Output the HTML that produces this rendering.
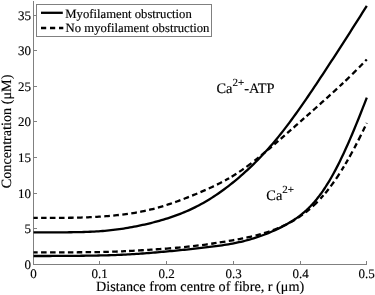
<!DOCTYPE html>
<html><head><meta charset="utf-8"><style>
html,body{margin:0;padding:0;background:#fff;}
svg{display:block;}
text{stroke:#000;stroke-width:0.15px;text-rendering:geometricPrecision;font-family:"Liberation Serif","Times New Roman",serif;fill:#000;}
</style></head><body>
<svg width="375" height="295" viewBox="0 0 375 295">
<rect width="375" height="295" fill="#fff"/>
<g stroke="#808080" stroke-width="1" fill="none" shape-rendering="crispEdges">
<line x1="33.5" y1="1" x2="33.5" y2="265"/>
<line x1="33" y1="264.5" x2="367" y2="264.5"/>
<line x1="33" y1="228.5" x2="37" y2="228.5"/><line x1="33" y1="193.5" x2="37" y2="193.5"/><line x1="33" y1="157.5" x2="37" y2="157.5"/><line x1="33" y1="121.5" x2="37" y2="121.5"/><line x1="33" y1="86.5" x2="37" y2="86.5"/><line x1="33" y1="50.5" x2="37" y2="50.5"/><line x1="33" y1="15.5" x2="37" y2="15.5"/><line x1="99.5" y1="264" x2="99.5" y2="260.5"/><line x1="166.5" y1="264" x2="166.5" y2="260.5"/><line x1="233.5" y1="264" x2="233.5" y2="260.5"/><line x1="300.5" y1="264" x2="300.5" y2="260.5"/><line x1="366.5" y1="264" x2="366.5" y2="260.5"/>
</g>
<g font-size="13"><text x="30.9" y="269.00" text-anchor="end">0</text><text x="30.9" y="233.00" text-anchor="end">5</text><text x="30.9" y="198.00" text-anchor="end">10</text><text x="30.9" y="162.00" text-anchor="end">15</text><text x="30.9" y="126.00" text-anchor="end">20</text><text x="30.9" y="91.00" text-anchor="end">25</text><text x="30.9" y="55.00" text-anchor="end">30</text><text x="30.9" y="20.00" text-anchor="end">35</text><text x="33.50" y="278.1" text-anchor="middle">0</text><text x="99.50" y="278.1" text-anchor="middle">0.1</text><text x="166.50" y="278.1" text-anchor="middle">0.2</text><text x="233.50" y="278.1" text-anchor="middle">0.3</text><text x="300.50" y="278.1" text-anchor="middle">0.4</text><text x="366.50" y="278.1" text-anchor="middle">0.5</text></g>
<g fill="none" stroke="#000" stroke-width="2.3" stroke-linejoin="round">
<path d="M33.50,232.40 L35.60,232.40 L37.69,232.40 L39.79,232.40 L41.88,232.40 L43.98,232.39 L46.08,232.39 L48.17,232.39 L50.27,232.38 L52.37,232.38 L54.46,232.37 L56.56,232.36 L58.65,232.35 L60.75,232.34 L62.85,232.33 L64.94,232.31 L67.04,232.29 L69.14,232.27 L71.23,232.25 L73.33,232.22 L75.42,232.19 L77.52,232.15 L79.62,232.10 L81.71,232.05 L83.81,231.99 L85.91,231.92 L88.00,231.85 L90.10,231.76 L92.19,231.67 L94.29,231.56 L96.39,231.44 L98.48,231.30 L100.58,231.16 L102.68,230.99 L104.77,230.82 L106.87,230.63 L108.96,230.42 L111.06,230.20 L113.16,229.96 L115.25,229.71 L117.35,229.44 L119.45,229.15 L121.54,228.85 L123.64,228.53 L125.73,228.20 L127.83,227.85 L129.93,227.48 L132.02,227.11 L134.12,226.71 L136.22,226.30 L138.31,225.88 L140.41,225.44 L142.50,224.99 L144.60,224.52 L146.70,224.04 L148.79,223.54 L150.89,223.03 L152.98,222.50 L155.08,221.95 L157.18,221.39 L159.27,220.81 L161.37,220.21 L163.47,219.59 L165.56,218.96 L167.66,218.30 L169.75,217.62 L171.85,216.91 L173.95,216.19 L176.04,215.43 L178.14,214.65 L180.24,213.85 L182.33,213.01 L184.43,212.15 L186.52,211.26 L188.62,210.33 L190.72,209.37 L192.81,208.38 L194.91,207.36 L197.01,206.30 L199.10,205.20 L201.20,204.07 L203.29,202.91 L205.39,201.70 L207.49,200.46 L209.58,199.19 L211.68,197.87 L213.78,196.52 L215.87,195.13 L217.97,193.71 L220.06,192.25 L222.16,190.75 L224.26,189.22 L226.35,187.65 L228.45,186.05 L230.55,184.41 L232.64,182.74 L234.74,181.03 L236.83,179.29 L238.93,177.52 L241.03,175.71 L243.12,173.86 L245.22,171.98 L247.32,170.07 L249.41,168.11 L251.51,166.12 L253.60,164.09 L255.70,162.02 L257.80,159.91 L259.89,157.76 L261.99,155.57 L264.08,153.33 L266.18,151.04 L268.28,148.71 L270.37,146.34 L272.47,143.91 L274.57,141.44 L276.66,138.92 L278.76,136.36 L280.85,133.75 L282.95,131.09 L285.05,128.39 L287.14,125.64 L289.24,122.86 L291.34,120.03 L293.43,117.17 L295.53,114.27 L297.62,111.33 L299.72,108.37 L301.82,105.37 L303.91,102.35 L306.01,99.30 L308.11,96.23 L310.20,93.14 L312.30,90.04 L314.39,86.91 L316.49,83.77 L318.59,80.62 L320.68,77.46 L322.78,74.28 L324.88,71.09 L326.97,67.90 L329.07,64.70 L331.16,61.49 L333.26,58.27 L335.36,55.04 L337.45,51.81 L339.55,48.57 L341.65,45.32 L343.74,42.07 L345.84,38.81 L347.93,35.54 L350.03,32.26 L352.13,28.98 L354.22,25.69 L356.32,22.39 L358.42,19.09 L360.51,15.78 L362.61,12.46 L364.70,9.13 L366.80,5.80"/>
<path d="M33.50,256.02 L35.60,256.02 L37.69,256.01 L39.79,256.01 L41.88,256.01 L43.98,256.00 L46.08,256.00 L48.17,255.99 L50.27,255.98 L52.37,255.97 L54.46,255.97 L56.56,255.96 L58.65,255.95 L60.75,255.93 L62.85,255.92 L64.94,255.91 L67.04,255.89 L69.14,255.88 L71.23,255.86 L73.33,255.84 L75.42,255.82 L77.52,255.80 L79.62,255.78 L81.71,255.75 L83.81,255.73 L85.91,255.70 L88.00,255.67 L90.10,255.64 L92.19,255.61 L94.29,255.57 L96.39,255.53 L98.48,255.49 L100.58,255.45 L102.68,255.40 L104.77,255.35 L106.87,255.30 L108.96,255.24 L111.06,255.17 L113.16,255.10 L115.25,255.03 L117.35,254.94 L119.45,254.86 L121.54,254.77 L123.64,254.67 L125.73,254.56 L127.83,254.45 L129.93,254.33 L132.02,254.21 L134.12,254.08 L136.22,253.94 L138.31,253.80 L140.41,253.65 L142.50,253.50 L144.60,253.35 L146.70,253.19 L148.79,253.02 L150.89,252.85 L152.98,252.68 L155.08,252.50 L157.18,252.32 L159.27,252.14 L161.37,251.95 L163.47,251.77 L165.56,251.58 L167.66,251.38 L169.75,251.19 L171.85,250.99 L173.95,250.79 L176.04,250.59 L178.14,250.38 L180.24,250.18 L182.33,249.97 L184.43,249.75 L186.52,249.54 L188.62,249.32 L190.72,249.10 L192.81,248.88 L194.91,248.65 L197.01,248.42 L199.10,248.19 L201.20,247.95 L203.29,247.71 L205.39,247.47 L207.49,247.22 L209.58,246.96 L211.68,246.70 L213.78,246.43 L215.87,246.16 L217.97,245.87 L220.06,245.58 L222.16,245.27 L224.26,244.95 L226.35,244.62 L228.45,244.27 L230.55,243.91 L232.64,243.52 L234.74,243.12 L236.83,242.69 L238.93,242.24 L241.03,241.77 L243.12,241.27 L245.22,240.75 L247.32,240.19 L249.41,239.61 L251.51,239.00 L253.60,238.36 L255.70,237.69 L257.80,237.00 L259.89,236.27 L261.99,235.51 L264.08,234.73 L266.18,233.91 L268.28,233.07 L270.37,232.20 L272.47,231.30 L274.57,230.36 L276.66,229.40 L278.76,228.40 L280.85,227.37 L282.95,226.30 L285.05,225.19 L287.14,224.03 L289.24,222.82 L291.34,221.55 L293.43,220.23 L295.53,218.83 L297.62,217.36 L299.72,215.81 L301.82,214.16 L303.91,212.42 L306.01,210.57 L308.11,208.61 L310.20,206.53 L312.30,204.31 L314.39,201.96 L316.49,199.47 L318.59,196.84 L320.68,194.05 L322.78,191.10 L324.88,188.00 L326.97,184.74 L329.07,181.32 L331.16,177.75 L333.26,174.02 L335.36,170.13 L337.45,166.10 L339.55,161.92 L341.65,157.61 L343.74,153.17 L345.84,148.59 L347.93,143.91 L350.03,139.11 L352.13,134.21 L354.22,129.21 L356.32,124.13 L358.42,118.96 L360.51,113.73 L362.61,108.42 L364.70,103.06 L366.80,97.65"/>
<path d="M33.50,217.94 L35.61,217.94 L37.78,217.94M41.11,217.93 L42.89,217.93 L44.72,217.92 L46.55,217.92M49.83,217.91 L51.72,217.90 L53.61,217.90 L55.50,217.89M58.94,217.87 L60.78,217.85 L62.66,217.84 L64.55,217.82M68.00,217.78 L69.89,217.75 L71.77,217.73 L73.66,217.69M77.05,217.62 L78.94,217.58 L80.83,217.53 L82.72,217.47M86.11,217.36 L87.99,217.28 L89.88,217.20 L91.77,217.12M95.22,216.94 L97.05,216.84 L98.94,216.72 L100.83,216.60M104.27,216.36 L106.10,216.22 L107.99,216.06 L109.88,215.90M113.27,215.59 L115.10,215.40 L116.99,215.21 L118.88,215.00M122.32,214.60 L124.16,214.37 L125.99,214.13 L127.88,213.87M131.27,213.37 L133.10,213.08 L134.99,212.77 L136.88,212.44M140.21,211.83 L142.04,211.47 L143.88,211.09 L145.77,210.69M149.10,209.93 L150.93,209.49 L152.77,209.03 L154.60,208.55M157.88,207.65 L159.65,207.14 L161.49,206.60 L163.32,206.05M166.54,205.03 L168.32,204.45 L170.10,203.85 L171.93,203.23M175.15,202.09 L176.87,201.48 L178.65,200.83 L180.43,200.17M183.65,198.95 L185.37,198.29 L187.15,197.59 L188.93,196.89M192.10,195.63 L193.82,194.93 L195.54,194.23 L197.32,193.49M200.48,192.16 L202.21,191.42 L203.93,190.68 L205.65,189.92M208.76,188.53 L210.43,187.77 L212.15,186.97 L213.87,186.15M216.98,184.64 L218.65,183.81 L220.31,182.96 L221.98,182.10M225.04,180.46 L227.09,179.32 L229.15,178.14M231.65,176.67 L233.20,175.72 L234.76,174.76 L236.37,173.73M239.20,171.88 L240.70,170.87 L242.20,169.85 L243.70,168.80M246.42,166.85 L248.09,165.63 L249.76,164.39 L251.48,163.09M254.53,160.73 L256.59,159.11 L258.70,157.42M261.20,155.39 L263.25,153.70 L265.31,152.00M267.75,149.95 L269.75,148.26 L271.81,146.51M274.31,144.37 L276.31,142.65 L278.31,140.93M280.75,138.81 L282.75,137.07 L284.75,135.32M287.20,133.18 L289.20,131.43 L291.20,129.68M293.64,127.53 L295.70,125.72 L297.81,123.86M300.31,121.65 L302.25,119.93 L304.20,118.21M306.53,116.14 L308.53,114.37 L310.58,112.54M313.03,110.37 L315.14,108.49 L317.25,106.61M319.80,104.32 L321.86,102.48 L323.92,100.63M326.42,98.38 L328.41,96.57 L330.47,94.71M332.91,92.48 L334.97,90.59 L337.08,88.64M339.64,86.27 L341.41,84.61 L343.25,82.88M345.41,80.83 L347.52,78.81 L349.64,76.77M352.25,74.22 L354.36,72.14 L356.47,70.03M359.02,67.46 L360.97,65.48 L362.91,63.48M365.24,61.06 L366.80,59.43"/>
<path d="M33.50,252.33 L35.56,252.33 L37.67,252.33M41.05,252.33 L42.89,252.33 L44.72,252.33 L46.61,252.33M50.05,252.33 L51.89,252.33 L53.72,252.33 L55.61,252.32M59.05,252.32 L60.89,252.32 L62.72,252.32 L64.55,252.31M67.89,252.31 L69.72,252.30 L71.55,252.30 L73.38,252.29M76.72,252.28 L78.55,252.27 L80.38,252.26 L82.27,252.25M85.61,252.22 L87.44,252.21 L89.27,252.19 L91.11,252.17M94.44,252.12 L96.27,252.10 L98.10,252.06 L99.99,252.03M103.33,251.96 L105.16,251.91 L106.99,251.86 L108.83,251.81M112.16,251.71 L113.99,251.64 L115.83,251.58 L117.71,251.50M121.05,251.37 L122.66,251.29 L124.32,251.22 L125.99,251.14M129.05,250.99 L130.93,250.89 L132.82,250.79 L134.71,250.69M138.10,250.50 L139.99,250.39 L141.88,250.27 L143.82,250.16M147.21,249.95 L148.99,249.83 L150.77,249.72 L152.54,249.60M155.71,249.39 L157.60,249.26 L159.49,249.13 L161.38,249.00M164.82,248.74 L166.93,248.58 L169.04,248.42 L171.15,248.25M174.93,247.93 L176.82,247.77 L178.71,247.60 L180.60,247.42M184.04,247.09 L185.87,246.91 L187.76,246.71 L189.65,246.51M193.04,246.13 L194.87,245.91 L196.76,245.69 L198.65,245.45M202.04,245.02 L203.93,244.77 L205.82,244.52 L207.76,244.25M211.20,243.76 L212.98,243.50 L214.76,243.23 L216.54,242.96M219.70,242.47 L221.59,242.17 L223.48,241.87 L225.43,241.55M228.81,240.97 L230.65,240.66 L232.48,240.33 L234.31,240.00M237.65,239.38 L239.48,239.03 L241.31,238.67 L243.15,238.30M246.42,237.61 L248.31,237.20 L250.20,236.77 L252.09,236.33M255.53,235.49 L257.26,235.04 L259.03,234.57 L260.81,234.08M264.03,233.14 L265.87,232.57 L267.70,231.99 L269.59,231.36M272.86,230.20 L274.64,229.53 L276.48,228.82 L278.31,228.07M281.53,226.69 L283.25,225.90 L285.03,225.06 L286.81,224.18M289.92,222.56 L291.59,221.64 L293.25,220.68 L294.92,219.69M297.92,217.80 L299.47,216.77 L301.08,215.66 L302.70,214.51M305.53,212.38 L306.97,211.25 L308.47,210.02 L309.97,208.76M312.64,206.40 L314.25,204.90 L315.92,203.30 L317.58,201.64M320.42,198.67 L321.92,197.02 L323.42,195.32M325.25,193.17 L326.92,191.15 L328.64,188.98M330.64,186.38 L332.30,184.13 L334.03,181.74M336.03,178.86 L337.75,176.30 L339.47,173.67M341.52,170.43 L342.75,168.46 L343.97,166.45M345.41,164.02 L346.69,161.84 L347.97,159.62M349.52,156.86 L350.97,154.25 L352.47,151.50M354.25,148.17 L355.47,145.85 L356.75,143.39M358.30,140.36 L359.69,137.61 L361.08,134.83M362.74,131.45 L363.91,129.07 L365.13,126.54M366.58,123.53 L366.80,123.07"/>
</g>
<rect x="36.5" y="4.5" width="175" height="32" fill="#fff" stroke="#808080" stroke-width="1" shape-rendering="crispEdges"/>
<line x1="41" y1="12.8" x2="62.8" y2="12.8" stroke="#000" stroke-width="2.3"/>
<line x1="41" y1="28" x2="63.3" y2="28" stroke="#000" stroke-width="2.3" stroke-dasharray="5.2 3.8"/>
<g font-size="12.7">
<text x="65.3" y="17.6">Myofilament obstruction</text>
<text x="65.6" y="31.9">No myofilament obstruction</text>
</g>
<g font-size="14.4">
<text x="216.5" y="93">Ca<tspan font-size="11" dy="-7">2+</tspan><tspan dy="7">-ATP</tspan></text>
<text x="266.3" y="200.2">Ca<tspan font-size="11" dy="-7">2+</tspan></text>
</g>
<g font-size="14.2">
<text x="200.1" y="290.7" text-anchor="middle">Distance from centre of fibre, r (μm)</text>
<text transform="translate(11.3,131.4) rotate(-90)" text-anchor="middle">Concentration (μM)</text>
</g>
</svg>
</body></html>
